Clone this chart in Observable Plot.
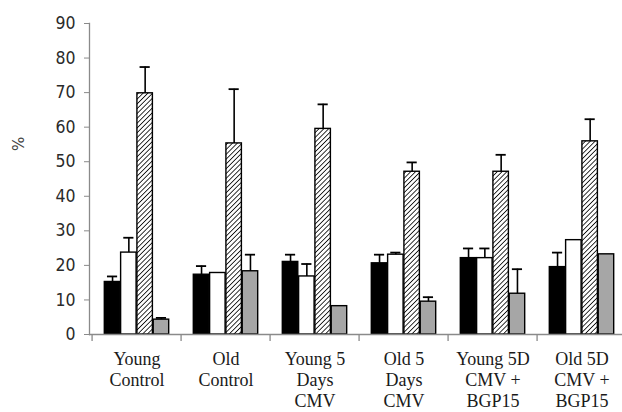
<!DOCTYPE html>
<html>
<head>
<meta charset="utf-8">
<script src="https://cdn.jsdelivr.net/npm/d3@7"></script>
<script src="https://cdn.jsdelivr.net/npm/@observablehq/plot@0.6"></script>
<style>
  html, body { margin: 0; padding: 0; background: #fff; overflow: hidden; }
  #chart svg { display: block; }
</style>
</head>
<body>
<div id="chart"></div>
<script>
// ---- data ----
const categories = ["Young Control", "Old Control", "Young 5 Days CMV", "Old 5 Days CMV", "Young 5D CMV + BGP15", "Old 5D CMV + BGP15"];
const categoryLabels = ["Young\nControl", "Old\nControl", "Young 5\nDays\nCMV", "Old 5\nDays\nCMV", "Young 5D\nCMV +\nBGP15", "Old 5D\nCMV +\nBGP15"];
const series = ["Series 1", "Series 2", "Series 3", "Series 4"];
const series1 = [15.2, 17.3, 21.0, 20.6, 22.1, 19.5];
const series2 = [23.7, 17.8, 16.8, 23.1, 22.1, 27.3];
const series3 = [69.8, 55.3, 59.5, 47.1, 47.1, 55.9];
const series4 = [4.3, 18.3, 8.2, 9.5, 11.8, 23.2];
const error1 = [1.6, 2.5, 2.1, 2.5, 2.8, 4.2];
const error2 = [4.3, null, 3.6, 0.6, 2.8, null];
const error3 = [7.6, 15.7, 7.1, 2.7, 4.9, 6.4];
const error4 = [0.5, 4.8, null, 1.3, 7.1, null];
const yTicks = [0, 10, 20, 30, 40, 50, 60, 70, 80, 90];

// ---- layout / style ----
const W = 622, H = 412;
const margin = {top: 23, right: -6, bottom: 78, left: 89};
const fills = ["#000000", "#ffffff", "url(#hatch)", "#a6a6a6"];
const axisGray = "#8a8a8a";

const values = [series1, series2, series3, series4];
const errors = [error1, error2, error3, error4];
const rows = [];
series.forEach((s, i) => categories.forEach((c, j) => {
  rows.push({cat: c, series: s, value: values[i][j], err: errors[i][j]});
}));

const bw = (W - margin.left - margin.right) / categories.length;
const sub = d3.scaleBand().domain(series).range([0, bw]).paddingInner(0).paddingOuter(0.755);
const sbw = sub.bandwidth();
const capHalf = 5.5;
const labelMap = new Map(categories.map((c, i) => [c, categoryLabels[i]]));

const marks = [];
series.forEach((s, i) => {
  const data = rows.filter(d => d.series === s);
  marks.push(Plot.barY(data, {
    x: "cat", y: "value", fill: fills[i], stroke: "#000", strokeWidth: 1.4,
    insetLeft: sub(s), insetRight: bw - sub(s) - sbw
  }));
  const ed = data.filter(d => d.err != null);
  const center = sub(s) + sbw / 2;
  marks.push(Plot.ruleX(ed, {
    x: "cat", y1: "value", y2: d => d.value + d.err, dx: center - bw / 2,
    stroke: "#000", strokeWidth: 1.6
  }));
  marks.push(Plot.tickY(ed, {
    x: "cat", y: d => d.value + d.err,
    insetLeft: center - capHalf, insetRight: bw - center - capHalf,
    stroke: "#000", strokeWidth: 1.8
  }));
});

// axes
marks.push(Plot.ruleY([0], {stroke: axisGray, strokeWidth: 1.3}));
marks.push(Plot.frame({anchor: "left", stroke: axisGray, strokeWidth: 1.3}));
marks.push(Plot.axisY({
  ticks: yTicks, tickSize: 5, tickPadding: 9, stroke: axisGray, color: "#2a2a2a",
  fontSize: 17.5, fontFamily: "'DejaVu Sans Condensed', 'Liberation Sans', sans-serif",
  label: null
}));
marks.push(Plot.axisX({
  tickSize: 7, dx: -bw / 2, text: null, stroke: axisGray, strokeWidth: 1.3, label: null
}));
marks.push(Plot.text(categories, {
  x: d => d, text: d => labelMap.get(d), frameAnchor: "bottom", lineAnchor: "top",
  dy: 16, fontSize: 18, lineHeight: 1.15,
  fontFamily: "'Liberation Serif', 'Times New Roman', serif", fill: "#1a1a1a"
}));
marks.push(Plot.text(["%"], {
  frameAnchor: "left", dx: -70, dy: -28, rotate: -90, text: d => d,
  fontSize: 15, fontFamily: "'DejaVu Sans', sans-serif", fill: "#444"
}));

const chart = Plot.plot({
  width: W, height: H,
  marginTop: margin.top, marginRight: margin.right, marginBottom: margin.bottom, marginLeft: margin.left,
  x: {domain: categories, padding: 0, axis: null},
  y: {domain: [0, 90], axis: null},
  style: {background: "#fff", overflow: "hidden"},
  marks
});

// hatch pattern
const ns = "http://www.w3.org/2000/svg";
const defs = document.createElementNS(ns, "defs");
defs.innerHTML = '<pattern id="hatch" width="3.4" height="3.4" patternUnits="userSpaceOnUse" patternTransform="rotate(45)"><rect width="3.4" height="3.4" fill="#fff"/><line x1="0" y1="0" x2="0" y2="3.4" stroke="#000" stroke-width="1.6"/></pattern>';
chart.insertBefore(defs, chart.firstChild);

document.getElementById("chart").appendChild(chart);
</script>
</body>
</html>
